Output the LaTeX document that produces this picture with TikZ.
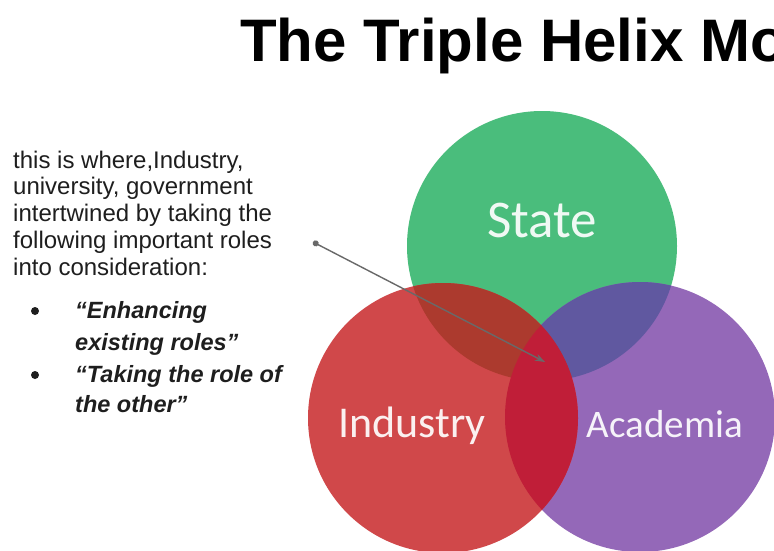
\documentclass[tikz,border=0pt]{standalone}
\usepackage{fontspec}
\setmainfont{Liberation Sans}
\newfontfamily\carlito{Carlito}
\usepackage{xcolor}
\usepackage{tikz}
\usetikzlibrary{arrows.meta, positioning}
\definecolor{hgreen}{RGB}{74, 189, 124}
\definecolor{hred}{RGB}{208, 72, 74}
\definecolor{hpurple}{RGB}{148, 104, 184}
\definecolor{hbrown}{RGB}{172, 58, 46}
\definecolor{hslate}{RGB}{96, 88, 160}
\definecolor{hcrimson}{RGB}{192, 30, 56}
\definecolor{hgray}{RGB}{105, 105, 105}
\definecolor{htext}{RGB}{30, 30, 30}

\begin{document}
\begin{tikzpicture}[x=1pt, y=-1pt,
    circlabel/.style={anchor=base, inner sep=0, text=white, text opacity=0.92},
    bodytext/.style={anchor=base west, inner sep=0, align=left, text=htext},
    bulletdot/.style={circle, fill=htext, inner sep=0, minimum size=8pt}]
        % Canvas
        \clip (0,0) rectangle (774,550);
        \fill[white] (0,0) rectangle (774,550);
        % Title
        \node[anchor=base west, inner sep=0,
          font=\fontsize{60}{72}\selectfont\bfseries] (title) at (240,61)
          {The Triple Helix Mo};
        % Circle centres
        \coordinate (state) at (542,246);
        \coordinate (industry) at (443,418);
        \coordinate (academia) at (640,417);
        % Circles
        \fill[hgreen] (state) circle (135pt);
        \fill[hpurple] (academia) circle (135pt);
        \fill[hred] (industry) circle (135pt);
        % Overlaps with State
        \begin{scope}
          \clip (state) circle (135pt);
          \fill[hslate] (academia) circle (135pt);
          \fill[hbrown] (industry) circle (135pt);
        \end{scope}
        % Overlap of Industry and Academia
        \begin{scope}
          \clip (academia) circle (135pt);
          \fill[hcrimson] (industry) circle (135pt);
        \end{scope}
        % Labels
        \node[circlabel, font=\carlito\fontsize{53}{60}\selectfont]
          (statetext) at (542,237) {State};
        \node[circlabel, font=\carlito\fontsize{44}{50}\selectfont]
          (industrytext) at (412,437) {Industry};
        \node[circlabel, font=\carlito\fontsize{39}{45}\selectfont]
          (academiatext) at (665,437) {Academia};
        % Side text (base = last line)
        \node[bodytext, font=\fontsize{24}{26.7}\selectfont]
          (intro) at (13,275) {this is where,Industry,\\
          university, government\\ intertwined by taking the\\
          following important roles\\ into consideration:};
        % Roles
        \node[bulletdot] (dotone) at (35,311) {};
        \node[bodytext, font=\fontsize{23.5}{32}\selectfont\bfseries\itshape]
          (roleone) at (75,350) {``Enhancing\\ existing roles''};
        \node[bulletdot] (dottwo) at (35,375) {};
        \node[bodytext, font=\fontsize{23.5}{30}\selectfont\bfseries\itshape]
          (roletwo) at (75,412) {``Taking the role of\\ the other''};
        % Pointer into the centre
        \coordinate (pin) at (313,242);
        \coordinate (core) at (545,362);
        \draw[hgray, line width=1.4pt,
          {Circle[length=6pt]}-{Stealth[length=10pt, width=7pt]}]
          (pin) -- (core);
      \end{tikzpicture}
\end{document}
